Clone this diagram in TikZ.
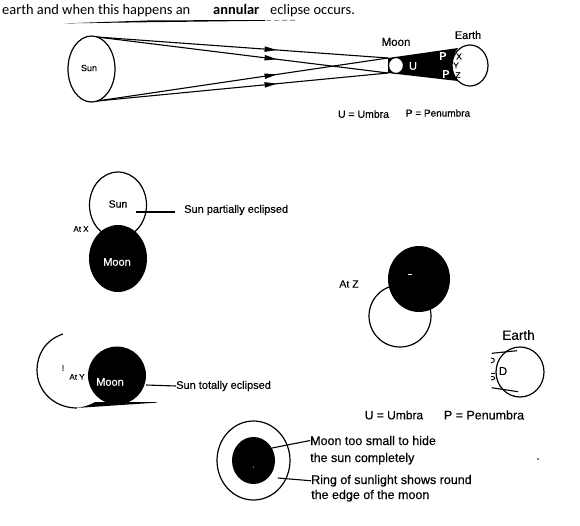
\documentclass[tikz,border=0pt]{standalone}
\usepackage{fontspec}
\setmainfont{Liberation Sans}[FakeBold=0.35]
\newfontfamily\notefont{Carlito}
\usetikzlibrary{decorations.markings,calc}
\tikzset{
  x=1pt,y=-1pt,
  lab/.style={font=\fontsize{#1}{#1}\selectfont,inner sep=0pt,text=black},
  lab/.default=11,
  whitelab/.style={lab=#1,text=white},
  note/.style={font=\notefont\fontsize{14.4}{14.4}\selectfont,inner sep=0pt,anchor=base west},
  body/.style={draw=black,line width=1.2pt,fill=white},
  link/.style={draw=black,line width=1.1pt},
  ray/.style={draw=black,line width=1.1pt,postaction={decorate},decoration={markings,
    mark=at position #1 with {\fill[black] (-7pt,-2.8pt) -- (5pt,0pt) -- (-7pt,2.8pt) -- cycle;}}},
}
\begin{document}
\begin{tikzpicture}
\useasboundingbox (0,0) rectangle (580,525);

% Running text above the figure
\node[note] (t1) at (2,14) {earth and when this happens an};
\node[note] (t2) at (213,14) {\bfseries annular};
\node[note] (t3) at (270,14) {eclipse occurs.};
\fill[black] (64,23.4) -- (150,20.4) -- (265,20) -- (265,20.8) -- (150,22.2) -- cycle;
\draw[black!60,line width=.6pt,dash pattern=on 5pt off 3pt] (266,20.4) -- (295,20.2);

% Rays from the Sun past the Moon
\coordinate (sunT) at (97,37);
\coordinate (sunB) at (97,101);
\coordinate (moonT) at (388,58);
\coordinate (moonB) at (388,73);
\draw[ray=.6] (sunT) -- (moonT);
\draw[ray=.6] (sunT) -- (moonB);
\draw[ray=.6] (sunB) -- (moonT);
\draw[ray=.6] (sunB) -- (moonB);

\draw[body] (91.5,69) ellipse [x radius=23.5,y radius=33];
\node[lab=9] (sunA) at (89,68) {Sun};

% Earth with the shadow cone falling on it
\draw[body] (470,65.5) ellipse [x radius=18,y radius=20.5];
\fill[black] (moonT) -- (458,48) .. controls (454,53) and (452,59) .. (452,65)
  .. controls (452,71) and (454,76) .. (458,81) -- (moonB) -- cycle;
\draw[body] (396,65.5) ellipse [x radius=7.5,y radius=8];
\node[lab=11.5] (moonA) at (396,42) {Moon};
\node[lab=11] (earthA) at (468,35) {Earth};
\node[whitelab=11] (u) at (413,66) {U};
\node[whitelab=11] (p1) at (443,56) {P};
\node[whitelab=11] (p2) at (446,74) {P};
\node[lab=8.5] (x) at (459,56.5) {X};
\node[lab=8.5] (y) at (456,65.5) {Y};
\node[lab=8.5] (z) at (458,75) {Z};
\node[lab=10.5] (k1) at (363.5,114) {U = Umbra};
\node[lab=10] (k2) at (438,113) {P = Penumbra};

% Partial eclipse, seen from X
\draw[body] (118,205) ellipse [x radius=28.5,y radius=33];
\fill[black] (118,258.5) ellipse [x radius=29,y radius=33.5];
\node[lab=10.5] (sunX) at (118,204) {Sun};
\node[whitelab=11] (moonX) at (117,262) {Moon};
\node[lab=8] (atX) at (81,229) {At X};
\node[lab=11,anchor=west] (capX) at (184,210) {Sun partially eclipsed};
\coordinate (capXs) at (136,212);
\draw[link] (capXs) -- (175,212);

% Total eclipse, seen from Y
\draw[black,line width=1.2pt] (63,334) .. controls (45,340) and (37,355) .. (37,370)
  .. controls (37,392) and (55,408) .. (77,408);
\fill[black] (117,375.5) ellipse [x radius=29,y radius=29];
\fill[white] (80,403) rectangle (160,412);
\fill[black] (76,408) .. controls (84,407) and (90,405) .. (95,402) -- (157,402) -- (157,402.6) -- cycle;
\node[lab=8] (bang) at (63,368) {!};
\node[lab=8] (atY) at (77,377) {At Y};
\node[whitelab=11] (moonY) at (110,382) {Moon};
\node[lab=11,anchor=west] (capY) at (176,386) {Sun totally eclipsed};
\draw[link] (146,385) -- (capY.west);

% Moon moving off, seen from Z
\draw[body] (400,316) ellipse [x radius=31,y radius=31];
\fill[black] (419,279) ellipse [x radius=31,y radius=33];
\fill[white] (408,274) rectangle (412,275);
\node[lab=10.5] (atZ) at (349,284) {At Z};

% Earth in the shorter shadow
\draw[body] (520,372) ellipse [x radius=24,y radius=25];
\coordinate (e1) at (491.7,353.3);
\coordinate (e2) at (491.7,387.7);
\draw[link] (e1) -- (517,350.7);
\draw[link] (e2) -- (518,391.7);
% Cut-off letter remains at the left edge of the blanked patch
\draw[black,line width=.9pt] (491,358) .. controls (495,358) and (496,362) .. (491,363);
\draw[black,line width=.9pt] (495,373.5) -- (491,373.5) (491,376.5) .. controls (496,376) and (496,380) .. (491,380);
\node[lab=11.5] (d) at (503,371) {D};
\node[lab=13.5] (earthB) at (518.5,335) {Earth};
\node[lab=12] (k3) at (394,415) {U = Umbra};
\node[lab=12.5] (k4) at (484,415) {P = Penumbra};

% Annular eclipse
\draw[body] (253.5,460.5) ellipse [x radius=36.5,y radius=39.5];
\fill[black] (253.5,460.5) ellipse [x radius=21.5,y radius=23.5];
\fill[white] (253.5,467) circle [radius=.5];
\node[lab=12.5,anchor=base west] (c1) at (310,445) {Moon too small to hide};
\node[lab=12.5,anchor=base west] (c2) at (310,462) {the sun completely};
\node[lab=12.5,anchor=base west] (c3) at (311,484) {Ring of sunlight shows round};
\node[lab=12.5,anchor=base west] (c4) at (311,499) {the edge of the moon};
\draw[link] (272,448) -- (c1.west);
\coordinate (ringIn) at (278,478);
\draw[link] (ringIn) -- (c3.west);
\fill[black] (538,459) circle [radius=.8];
\end{tikzpicture}
\end{document}
